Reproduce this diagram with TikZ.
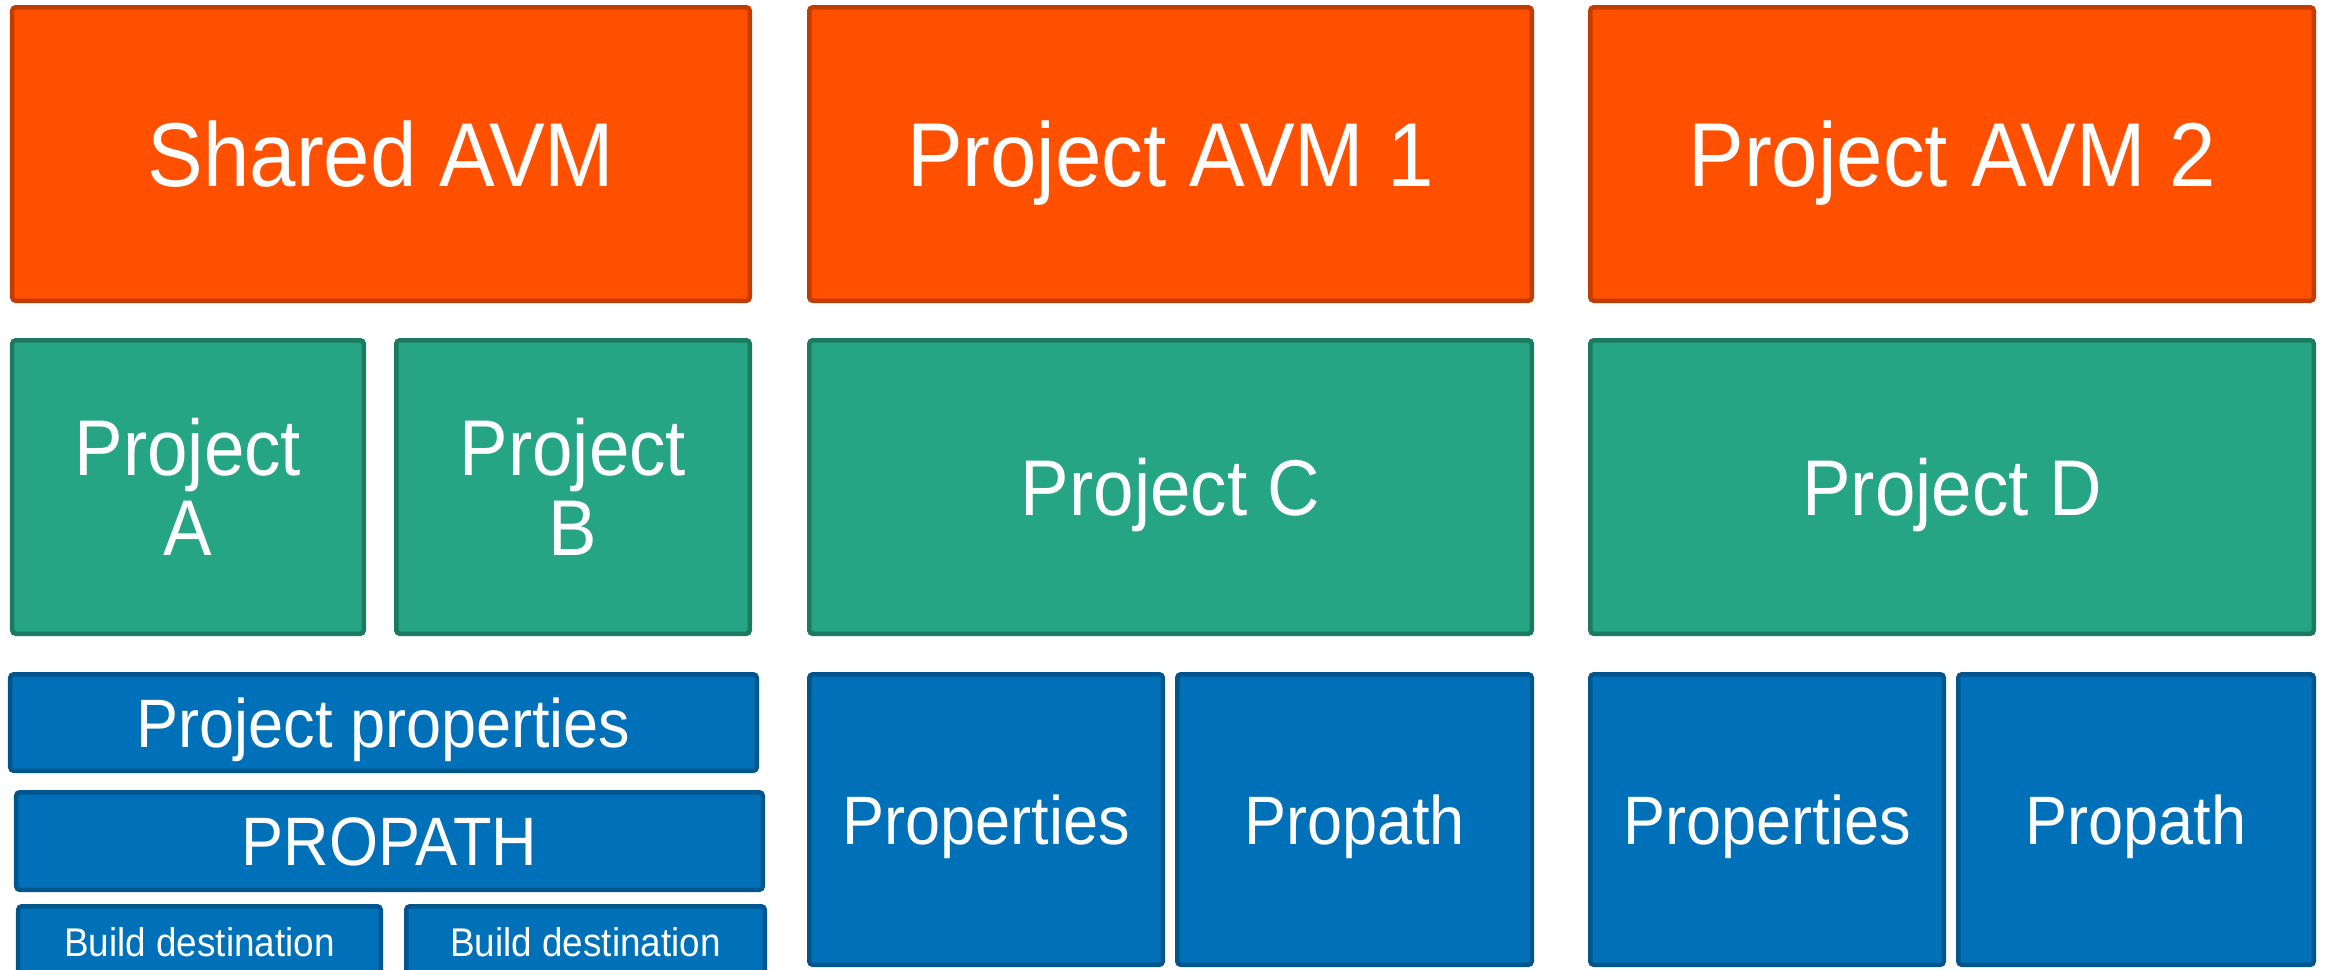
\documentclass[tikz,border=0pt]{standalone}
\usepackage{fontspec}
\setmainfont[FakeStretch=0.92]{Liberation Sans}
\usetikzlibrary{positioning}

\definecolor{avmfill}{HTML}{FF5000}
\definecolor{avmline}{HTML}{C23C00}
\definecolor{projfill}{HTML}{25A584}
\definecolor{projline}{HTML}{1B7A5F}
\definecolor{propfill}{HTML}{0071B9}
\definecolor{propline}{HTML}{00558C}

\tikzset{
    box/.style={draw, line width=0.045cm, rounded corners=1pt, text=white, inner sep=0pt},
    avm/.style={box, fill=avmfill, draw=avmline, minimum height=2.935cm,
        font=\fontsize{25.8}{30}\selectfont, text height=18.5pt, text depth=0pt},
    proj/.style={box, fill=projfill, draw=projline, minimum height=2.935cm,
        font=\fontsize{22.5}{22.8}\selectfont},
    projone/.style={proj, text height=16.1pt, text depth=0pt},
    prop/.style={box, fill=propfill, draw=propline,
        font=\fontsize{19.5}{23}\selectfont, text height=13.95pt, text depth=0pt},
    build/.style={box, fill=propfill, draw=propline, minimum height=0.715cm,
        font=\fontsize{11.4}{13}\selectfont, text height=8.15pt, text depth=0pt}
}

\begin{document}
\begin{tikzpicture}
    \useasboundingbox (0,0) rectangle (23.25,-9.69);

    % AVM row
    \node[avm, minimum width=7.375cm] (shared) at (3.81,-1.54) {Shared AVM};
    \node[avm, minimum width=7.225cm] (avm1) [right=0.55cm of shared] {Project AVM 1};
    \node[avm, minimum width=7.235cm] (avm2) [right=0.54cm of avm1] {Project AVM 2};

    % projects
    \node[proj, minimum width=3.515cm, align=center] (projA) [below right=0.35cm and 0cm of shared.south west] {Project\\A};
    \node[proj, minimum width=3.535cm, align=center] (projB) [right=0.28cm of projA] {Project\\B};
    \node[projone, minimum width=7.225cm] (projC) [below=0.35cm of avm1] {Project C};
    \node[projone, minimum width=7.235cm] (projD) [below=0.35cm of avm2] {Project D};

    % shared settings
    \node[prop, minimum width=7.465cm, minimum height=0.965cm] (sharedprops) [below right=0.36cm and -0.02cm of projA.south west] {Project properties};
    \node[prop, minimum width=7.465cm, minimum height=0.975cm] (sharedpath) [below right=0.17cm and 0.06cm of sharedprops.south west] {PROPATH};
    \node[build, minimum width=3.625cm] (buildA) [below right=0.12cm and 0.02cm of sharedpath.south west] {Build destination};
    \node[build, minimum width=3.585cm] (buildB) [right=0.21cm of buildA] {Build destination};

    % project settings
    \node[prop, minimum width=3.535cm, minimum height=2.905cm] (propsC) [below right=0.36cm and 0cm of projC.south west] {Properties};
    \node[prop, minimum width=3.545cm, minimum height=2.905cm] (pathC) [right=0.10cm of propsC] {Propath};
    \node[prop, minimum width=3.535cm, minimum height=2.905cm] (propsD) [below right=0.36cm and 0cm of projD.south west] {Properties};
    \node[prop, minimum width=3.555cm, minimum height=2.905cm] (pathD) [right=0.10cm of propsD] {Propath};
\end{tikzpicture}
\end{document}
